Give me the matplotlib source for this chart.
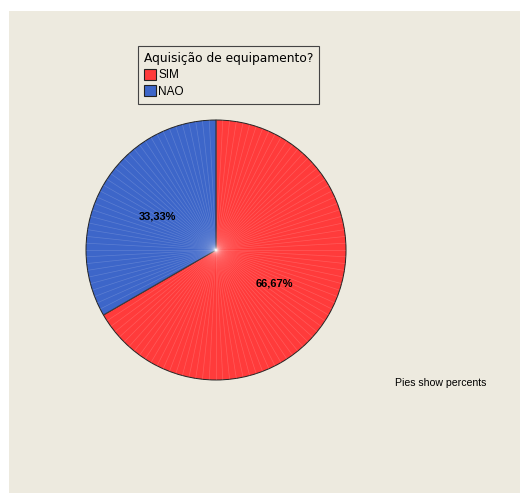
import numpy as np
import matplotlib.pyplot as plt
from matplotlib.patches import Rectangle, Patch

labels = ["SIM", "NAO"]
percents = [66.67, 33.33]
colors = ["#FF3B3B", "#3D66C9"]
legend_title = "Aquisição de equipamento?"
note = "Pies show percents"

plt.rcParams['font.family'] = ['Liberation Sans', 'DejaVu Sans']

fig = plt.figure(figsize=(5.2, 4.99), dpi=100)
fig.patch.set_facecolor('white')

# beige panel
fig.patches.append(Rectangle((9 / 520, 6 / 499), 511 / 520, 482 / 499,
                             transform=fig.transFigure, facecolor='#EDEADF',
                             edgecolor='none', zorder=-10))

ax = fig.add_axes([0.1654, 0.2385, 0.5, 0.521], zorder=2)
wedges, texts, autotexts = ax.pie(
    percents, colors=colors, startangle=90, counterclock=False,
    autopct=lambda p: f"{p:.2f}%".replace('.', ','), pctdistance=0.52,
    wedgeprops=dict(edgecolor='#222222', linewidth=0.7),
    textprops=dict(fontsize=8, fontweight='bold', color='black'))
ax.set_xlim(-1, 1)
ax.set_ylim(-1, 1)
ax.set_aspect('auto')
ax.axis('off')

# faint radial texture inside the pie
for a in np.deg2rad(np.arange(0, 360, 3)):
    ax.plot([0, np.cos(a)], [0, np.sin(a)], color='white', alpha=0.16,
            lw=0.5, zorder=3)
for w in wedges:
    w.set_zorder(2)
for t in autotexts:
    t.set_zorder(5)

handles = [Patch(facecolor=c, edgecolor='#222222', linewidth=0.8) for c in colors]
leg = fig.legend(handles, labels, title=legend_title, loc='upper left',
                 bbox_to_anchor=(138 / 520, 1 - 46 / 499), frameon=True,
                 fancybox=False, edgecolor='#444444', facecolor='#EDEADF',
                 fontsize=8.5, alignment='left',
                 handlelength=1.0, handleheight=1.0, handletextpad=0.2,
                 labelspacing=0.35, borderpad=0.5, borderaxespad=0)
leg.get_frame().set_linewidth(0.8)
leg.get_frame().set_alpha(1)
leg.get_title().set_family(['DejaVu Sans'])
leg.get_title().set_fontsize(8.8)
leg.set_zorder(5)

fig.text(395 / 520, 1 - 383 / 499, note, fontsize=7.6, va='center', ha='left')

fig.savefig('out.png', dpi=100)
